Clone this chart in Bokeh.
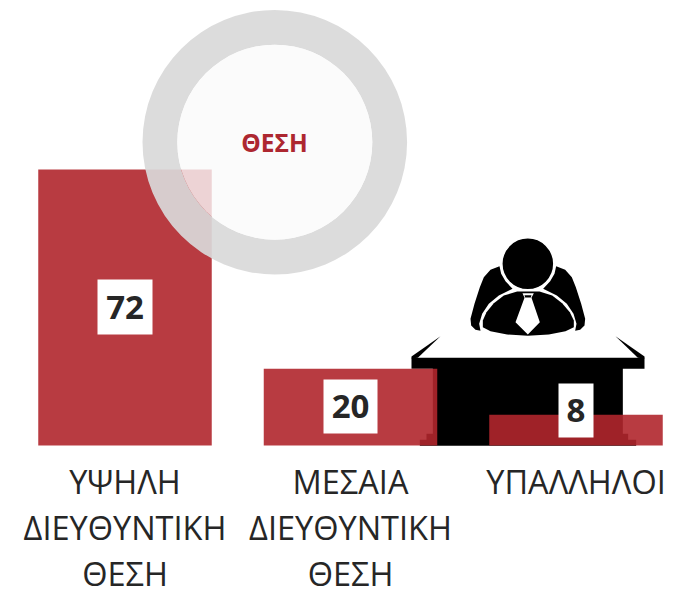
from bokeh.plotting import figure
from bokeh.models import Range1d
from bokeh.core.properties import value
from bokeh.embed import file_html
from bokeh.resources import INLINE

# --- data
categories = ["ΥΨΗΛΗ\nΔΙΕΥΘΥΝΤΙΚΗ\nΘΕΣΗ", "ΜΕΣΑΙΑ\nΔΙΕΥΘΥΝΤΙΚΗ\nΘΕΣΗ", "ΥΠΑΛΛΗΛΟΙ"]
values = [72, 20, 8]
center_title = "ΘΕΣΗ"

# --- layout
W, H = 679, 598
ORIGIN = 0
BAR_STEP, BAR_W, BAR0 = 225.5, 173.5, 124.5
Y0, PX_PER_UNIT = 445, 3.833
LABEL_FONT = "Open Sans"
RED, RED_ALPHA = "#b0262c", 0.9

def xr(px):
    return (px - BAR0) / BAR_STEP

def yr(px):
    return (Y0 - px) / PX_PER_UNIT

p = figure(width=W, height=H, output_backend="svg", toolbar_location=None,
           x_range=Range1d(xr(ORIGIN), xr(ORIGIN + W)),
           y_range=Range1d(yr(ORIGIN + H), yr(ORIGIN)),
           min_border=0, outline_line_color=None, background_fill_color="white",
           border_fill_color="white")
p.axis.visible = False
p.grid.visible = False
p.extra_x_ranges["px"] = Range1d(ORIGIN, ORIGIN + W)
p.extra_y_ranges["px"] = Range1d(ORIGIN + H, ORIGIN)
PX = dict(x_range_name="px", y_range_name="px")


def zoomed(points):
    return [400 + a / 3 for a, _ in points], [220 + b / 3 for _, b in points]


def poly(points, color="black"):
    xs, ys = zoomed(points)
    p.patch(xs, ys, fill_color=color, line_color=None, **PX)


# --- desk
desk = [(33, 412), (33, 445), (97, 445), (97, 445), (97, 640), (78, 640), (78, 658), (58, 658), (58, 676),
        (707, 676), (707, 658), (683, 658), (683, 640), (667, 640), (667, 445), (732, 445), (732, 412)]
poly(desk)
poly([(120, 347), (33, 408), (33, 414), (52, 412)])
poly([(645, 347), (732, 408), (732, 414), (712, 412)])

# --- person
left_arm = [(297, 137), (270, 148), (250, 170), (238, 200), (222, 250), (210, 295), (212, 315), (225, 328),
            (240, 331), (236, 310), (245, 280), (265, 250), (295, 225), (336, 205), (315, 182), (302, 160)]
poly(left_arm)
poly([(764 - a, b) for a, b in left_arm])
torso = [(350, 213), (310, 225), (280, 248), (258, 275), (247, 300), (247, 320), (270, 332), (320, 342),
         (382, 346), (445, 342), (495, 332), (520, 320), (520, 300), (508, 275), (485, 248), (455, 225), (417, 213)]
poly(torso)
poly([(366, 218), (400, 218), (393, 232), (418, 305), (382, 342), (345, 305), (372, 232)], "white")
poly([(372, 224), (393, 224), (391, 231), (374, 231)])
p.circle([400 + 382 / 3], [220 + 130 / 3], radius=26, fill_color="black", line_color="white", line_width=1.5, **PX)

# --- bars
xs = list(range(len(values)))
p.vbar(x=xs, top=values, bottom=0, width=BAR_W / BAR_STEP, fill_color=RED, fill_alpha=RED_ALPHA, line_color=None)

# --- ring
p.annulus([274.3], [141.7], inner_radius=97.5, outer_radius=132.3, fill_color="#d9d9d9", fill_alpha=0.92,
          line_color=None, **PX)
p.circle([274.3], [141.7], radius=97.5, fill_color="#fafafa", fill_alpha=0.8, line_color=None, **PX)
p.text([274], [142], text=[center_title], text_color="#ad2730", text_font=value(LABEL_FONT),
       text_font_style="bold", text_font_size="24.5px", text_align="center", text_baseline="middle", **PX)

# --- value boxes
box_cx = [124.5, 350, 575.5]
box_cy = [306.5, 406, 410]
box_w = [55, 54, 35]
p.rect(box_cx, box_cy, width=box_w, height=[55, 54, 54], fill_color="white", line_color=None, **PX)
p.text(box_cx, box_cy, text=[str(v) for v in values], text_color="#262626", text_font=value(LABEL_FONT),
       text_font_style="bold", text_font_size="33px", text_align="center", text_baseline="middle", **PX)

# --- category labels
LINE_Y = [481, 527, 573]
for i, cat in enumerate(categories):
    for y, line in zip(LINE_Y, cat.split("\n")):
        p.text([i], [yr(y)], text=[line], text_color="#262626", text_font=value(LABEL_FONT),
               text_font_size="32.5px", text_align="center", text_baseline="middle")

open("out.html", "w").write(file_html(p, INLINE))
